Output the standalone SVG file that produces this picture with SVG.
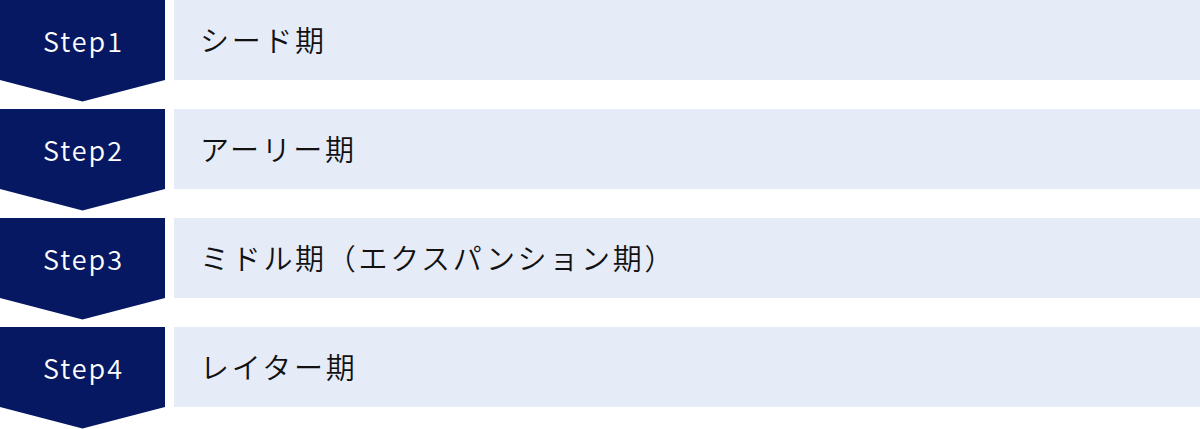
<svg xmlns="http://www.w3.org/2000/svg" width="1200" height="429" viewBox="0 0 1200 429">
<defs>
<style>
.step{fill:#061862}
.box{fill:#E6EBF8}
.st{font-family:"Noto Sans CJK JP","Noto Sans",sans-serif;font-size:27px;font-weight:350;fill:#ffffff;text-anchor:middle;letter-spacing:2px}
.lb{font-family:"Noto Sans CJK JP","Noto Sans",sans-serif;font-size:29px;font-weight:350;fill:#111111;letter-spacing:2.7px}
</style>
<path id="chev" class="step" d="M0 0H165V80L82.5 101.5L0 80Z"/>
</defs>
<rect width="1200" height="429" fill="#ffffff"/>
<g id="connectors"></g>
<g id="step1">
<use href="#chev"/>
<rect class="box" x="174" y="0" width="1026" height="80"/>
<text class="st" x="83.5" y="52">Step1</text>
<text class="lb" x="200" y="52">シード期</text>
</g>
<g id="step2">
<use href="#chev" y="109"/>
<rect class="box" x="174" y="109" width="1026" height="80"/>
<text class="st" x="83.5" y="161">Step2</text>
<text class="lb" x="200" y="161">アーリー期</text>
</g>
<g id="step3">
<use href="#chev" y="218"/>
<rect class="box" x="174" y="218" width="1026" height="80"/>
<text class="st" x="83.5" y="270">Step3</text>
<text class="lb" x="200" y="270">ミドル期（エクスパンション期）</text>
</g>
<g id="step4">
<use href="#chev" y="327"/>
<rect class="box" x="174" y="327" width="1026" height="80"/>
<text class="st" x="83.5" y="379">Step4</text>
<text class="lb" x="200" y="379">レイター期</text>
</g>
</svg>
